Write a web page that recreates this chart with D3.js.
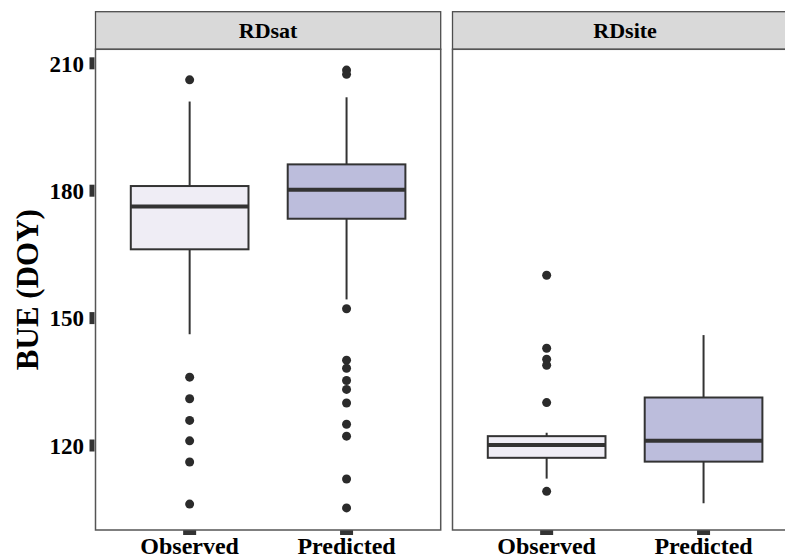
<!DOCTYPE html>
<html>
<head>
<meta charset="utf-8">
<script src="https://cdn.jsdelivr.net/npm/d3@7"></script>
<style>
  html, body { margin: 0; padding: 0; background: #fff; }
  svg { display: block; }
  text { font-family: "Liberation Serif", "Times New Roman", serif; font-weight: bold; fill: #000; }
</style>
</head>
<body>
<svg id="chart" width="785" height="560"></svg>
<script>
// ---- data ----
const facets = ["RDsat", "RDsite"];
const groups = ["Observed", "Predicted"];
const yTicks = [120, 150, 180, 210];

// box statistics per facet, in group order: [lowerWhisker, q1, median, q3, upperWhisker]
const rdsatStats = [
  [146.2, 166.2, 176.3, 181.1, 201.0],
  [154.4, 173.4, 180.2, 186.2, 202.0]
];
const rdsiteStats = [
  [112.2, 117.1, 120.1, 122.2, 123.0],
  [106.4, 116.2, 121.1, 131.3, 146.0]
];

// outliers per facet, in group order
const rdsatOutliers = [
  [206.1, 136.1, 131.0, 125.9, 121.1, 116.1, 106.2],
  [208.4, 207.4, 152.2, 140.1, 138.2, 135.3, 133.2, 130.0, 125.0, 122.2, 112.1, 105.3]
];
const rdsiteOutliers = [
  [160.1, 142.9, 140.3, 138.9, 130.1, 109.2],
  []
];

const fills = ["#EFEDF5", "#BCBDDC"];

// ---- layout ----
const svg = d3.select("#chart");
const panelW = 345.2;
const panelXs = [95.5, 452.5];
const stripTop = 11.7, stripBottom = 49.3, plotBottom = 530;

const y = d3.scaleLinear().domain([100.1, 213.3]).range([plotBottom, stripBottom]);

const statsByFacet = [rdsatStats, rdsiteStats];
const outByFacet = [rdsatOutliers, rdsiteOutliers];

facets.forEach((facet, fi) => {
  const x0 = panelXs[fi];
  const g = svg.append("g").attr("transform", `translate(${x0},0)`);
  const x = d3.scalePoint().domain(groups).range([0, panelW]).padding(0.6);
  const boxW = x.step() * 0.75;

  // panel background
  g.append("rect").attr("x", 0).attr("y", stripBottom).attr("width", panelW)
    .attr("height", plotBottom - stripBottom).attr("fill", "#fff");

  // strip
  g.append("rect").attr("x", 0).attr("y", stripTop).attr("width", panelW)
    .attr("height", stripBottom - stripTop).attr("fill", "#D9D9D9")
    .attr("stroke", "#4d4d4d").attr("stroke-width", 1.3);
  g.append("text").attr("x", panelW / 2).attr("y", (stripTop + stripBottom) / 2)
    .attr("dy", "0.36em").attr("text-anchor", "middle").attr("font-size", 22).text(facet);

  groups.forEach((grp, gi) => {
    const s = statsByFacet[fi][gi];
    const cx = x(grp);
    const gg = g.append("g");
    // whiskers
    gg.append("line").attr("x1", cx).attr("x2", cx).attr("y1", y(s[4])).attr("y2", y(s[3]))
      .attr("stroke", "#333").attr("stroke-width", 2);
    gg.append("line").attr("x1", cx).attr("x2", cx).attr("y1", y(s[1])).attr("y2", y(s[0]))
      .attr("stroke", "#333").attr("stroke-width", 2);
    // box
    gg.append("rect").attr("x", cx - boxW / 2).attr("y", y(s[3])).attr("width", boxW)
      .attr("height", y(s[1]) - y(s[3])).attr("fill", fills[gi])
      .attr("stroke", "#333").attr("stroke-width", 2);
    // median
    gg.append("line").attr("x1", cx - boxW / 2).attr("x2", cx + boxW / 2)
      .attr("y1", y(s[2])).attr("y2", y(s[2])).attr("stroke", "#333").attr("stroke-width", 4);
    // outliers
    gg.selectAll("circle").data(outByFacet[fi][gi]).join("circle")
      .attr("cx", cx).attr("cy", d => y(d)).attr("r", 4.5).attr("fill", "#2b2b2b");

    // x tick and label
    g.append("rect").attr("x", cx - 6.5).attr("y", plotBottom).attr("width", 13).attr("height", 5)
      .attr("fill", "#333");
    g.append("text").attr("x", cx).attr("y", 554).attr("text-anchor", "middle")
      .attr("font-size", 24).text(grp);
  });

  // panel border
  g.append("rect").attr("x", 0).attr("y", stripBottom).attr("width", panelW)
    .attr("height", plotBottom - stripBottom).attr("fill", "none")
    .attr("stroke", "#555").attr("stroke-width", 1.5);
});

// y axis ticks & labels (left panel only)
const ya = svg.append("g");
yTicks.forEach(t => {
  ya.append("rect").attr("x", 89.5).attr("y", y(t) - 6).attr("width", 5).attr("height", 12)
    .attr("fill", "#333");
  ya.append("text").attr("x", 84).attr("y", y(t)).attr("dy", "0.36em")
    .attr("text-anchor", "end").attr("font-size", 23).text(t);
});

// y title
svg.append("text")
  .attr("transform", `translate(38,${(stripBottom + plotBottom) / 2}) rotate(-90)`)
  .attr("text-anchor", "middle").attr("font-size", 31).text("BUE (DOY)");
</script>
</body>
</html>
